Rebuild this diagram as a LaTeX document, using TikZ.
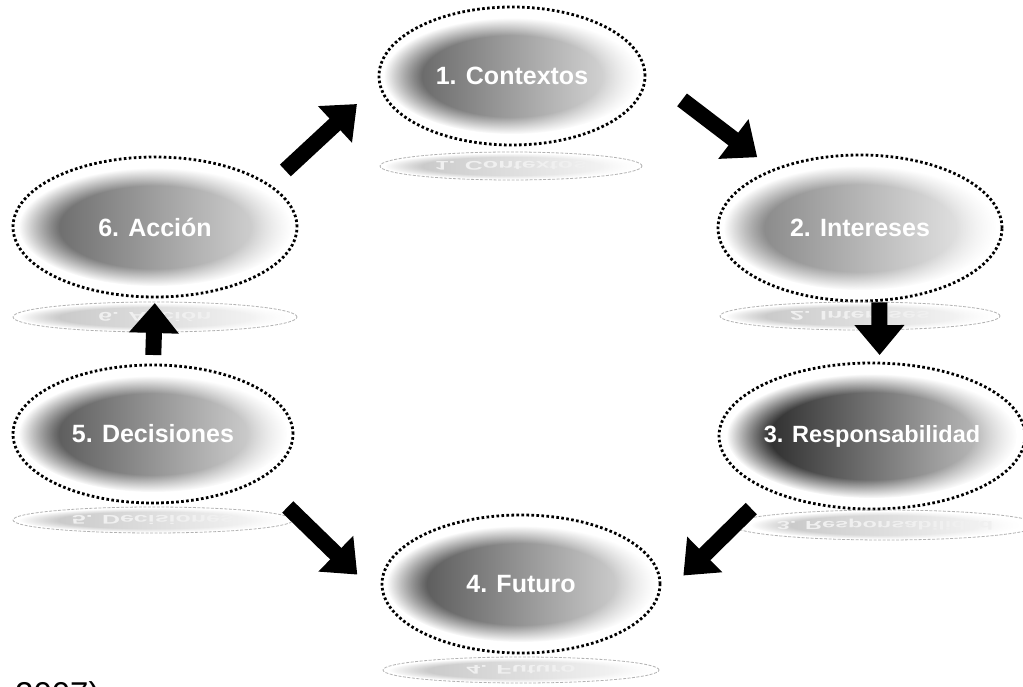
\documentclass[tikz,border=0pt]{standalone}
\usepackage{fontspec}
\setmainfont{Liberation Sans}
\usepackage{graphicx}
\usepackage{tikz}
\usetikzlibrary{arrows.meta,shapes.geometric,fadings,backgrounds}

\pgfdeclareradialshading{glowshading}{\pgfpointorigin}{color(0bp)=(white); color(17.5bp)=(white); color(25bp)=(black); color(50bp)=(black)}
\pgfdeclarefading{glow}{\pgfuseshading{glowshading}}

\tikzset{
    bubble/.style={ellipse, draw=black, line width=2.8pt, dash pattern=on 2.6pt off 2.4pt, inner sep=0pt, outer sep=0pt, text=white, font=\bfseries\fontsize{25}{29}\selectfont},
    mirror/.style={ellipse, draw=black!30, line width=0.8pt, dash pattern=on 3pt off 1.5pt, inner sep=0pt, outer sep=0pt, text=black!6, font=\bfseries\fontsize{25}{29}\selectfont},
    bigarrow/.style={line width=16pt, -{Triangle[width=48pt,length=30pt]}},
    mirrorshade/.style={left color=black!24, right color=black!2, path fading=glow}
}

\begin{document}
\begin{tikzpicture}[x=1pt,y=-1pt]
    \useasboundingbox (0,0) rectangle (1023,687);
    \clip (0,0) rectangle (1023,687);
    \node [bubble, minimum width=266, minimum height=138] (contextos) at (512,76) {1. Contextos};
    \node [bubble, minimum width=284, minimum height=146] (intereses) at (860,228) {2. Intereses};
    \node [bubble, minimum width=302, minimum height=146, font=\bfseries\fontsize{23.5}{27}\selectfont] (responsabilidad) at (872,436) {3. Responsabilidad};
    \node [bubble, minimum width=278, minimum height=138] (futuro) at (521,584) {4. Futuro};
    \node [bubble, minimum width=280, minimum height=138] (decisiones) at (153,434) {5. Decisiones};
    \node [bubble, minimum width=284, minimum height=140] (accion) at (155,227) {6. Acción};
    \node [mirror, minimum width=262, minimum height=28] (contextosr) at (511,166) {\scalebox{1}[-0.5]{1. Contextos}};
    \node [mirror, minimum width=280, minimum height=28] (interesesr) at (860,316) {\scalebox{1}[-0.5]{2. Intereses}};
    \node [mirror, minimum width=280, minimum height=30, font=\bfseries\fontsize{23.5}{27}\selectfont] (responsabilidadr) at (885,525) {\scalebox{1}[-0.5]{3. Responsabilidad}};
    \node [mirror, minimum width=276, minimum height=26] (futuror) at (521,670) {\scalebox{1}[-0.5]{4. Futuro}};
    \node [mirror, minimum width=280, minimum height=26] (decisionesr) at (153,520) {\scalebox{1}[-0.5]{5. Decisiones}};
    \node [mirror, minimum width=284, minimum height=30] (accionr) at (155,317) {\scalebox{1}[-0.5]{6. Acción}};
    \node [anchor=north west, inner sep=0pt, font=\fontsize{33}{38}\selectfont] (fuente) at (15,681) {2007)};

    \begin{scope}[on background layer]
        \fill[white] (0,0) rectangle (1023,687);
        \shade[left color=black!66, right color=black!10, path fading=glow] (contextos.center) ellipse [x radius=128, y radius=58];
        \shade[left color=black!52, right color=black!6, path fading=glow] (intereses.center) ellipse [x radius=136, y radius=62];
        \shade[left color=black!92, right color=black!18, path fading=glow] (responsabilidad.center) ellipse [x radius=145, y radius=62];
        \shade[left color=black!72, right color=black!12, path fading=glow] (futuro.center) ellipse [x radius=134, y radius=58];
        \shade[left color=black!72, right color=black!12, path fading=glow] (decisiones.center) ellipse [x radius=134, y radius=58];
        \shade[left color=black!64, right color=black!12, path fading=glow] (accion.center) ellipse [x radius=136, y radius=59];
        \shade[mirrorshade] (contextosr.center) ellipse [x radius=126, y radius=13];
        \shade[mirrorshade] (interesesr.center) ellipse [x radius=134, y radius=13];
        \shade[mirrorshade] (responsabilidadr.center) ellipse [x radius=134, y radius=14];
        \shade[mirrorshade] (futuror.center) ellipse [x radius=132, y radius=12];
        \shade[mirrorshade] (decisionesr.center) ellipse [x radius=134, y radius=12];
        \shade[mirrorshade] (accionr.center) ellipse [x radius=136, y radius=14];
    \end{scope}

    \draw[bigarrow, shorten <=22pt, shorten >=31pt] (accion.20) -- (contextos.183);
    \draw[bigarrow, shorten <=47pt, shorten >=21pt] (contextos.2) -- (intereses.146);
    \draw[bigarrow, shorten <=2pt, shorten >=8pt] (intereses.285) -- (responsabilidad.84);
    \draw[bigarrow, shorten <=26pt, shorten >=42pt] (responsabilidad.208) -- (futuro.351);
    \draw[bigarrow, shorten <=40pt, shorten >=72pt] (decisiones.337) -- (futuro.200);
    \draw[bigarrow, shorten <=10pt, shorten >=6pt] (decisiones.90) -- (accion.270);

\end{tikzpicture}
\end{document}
